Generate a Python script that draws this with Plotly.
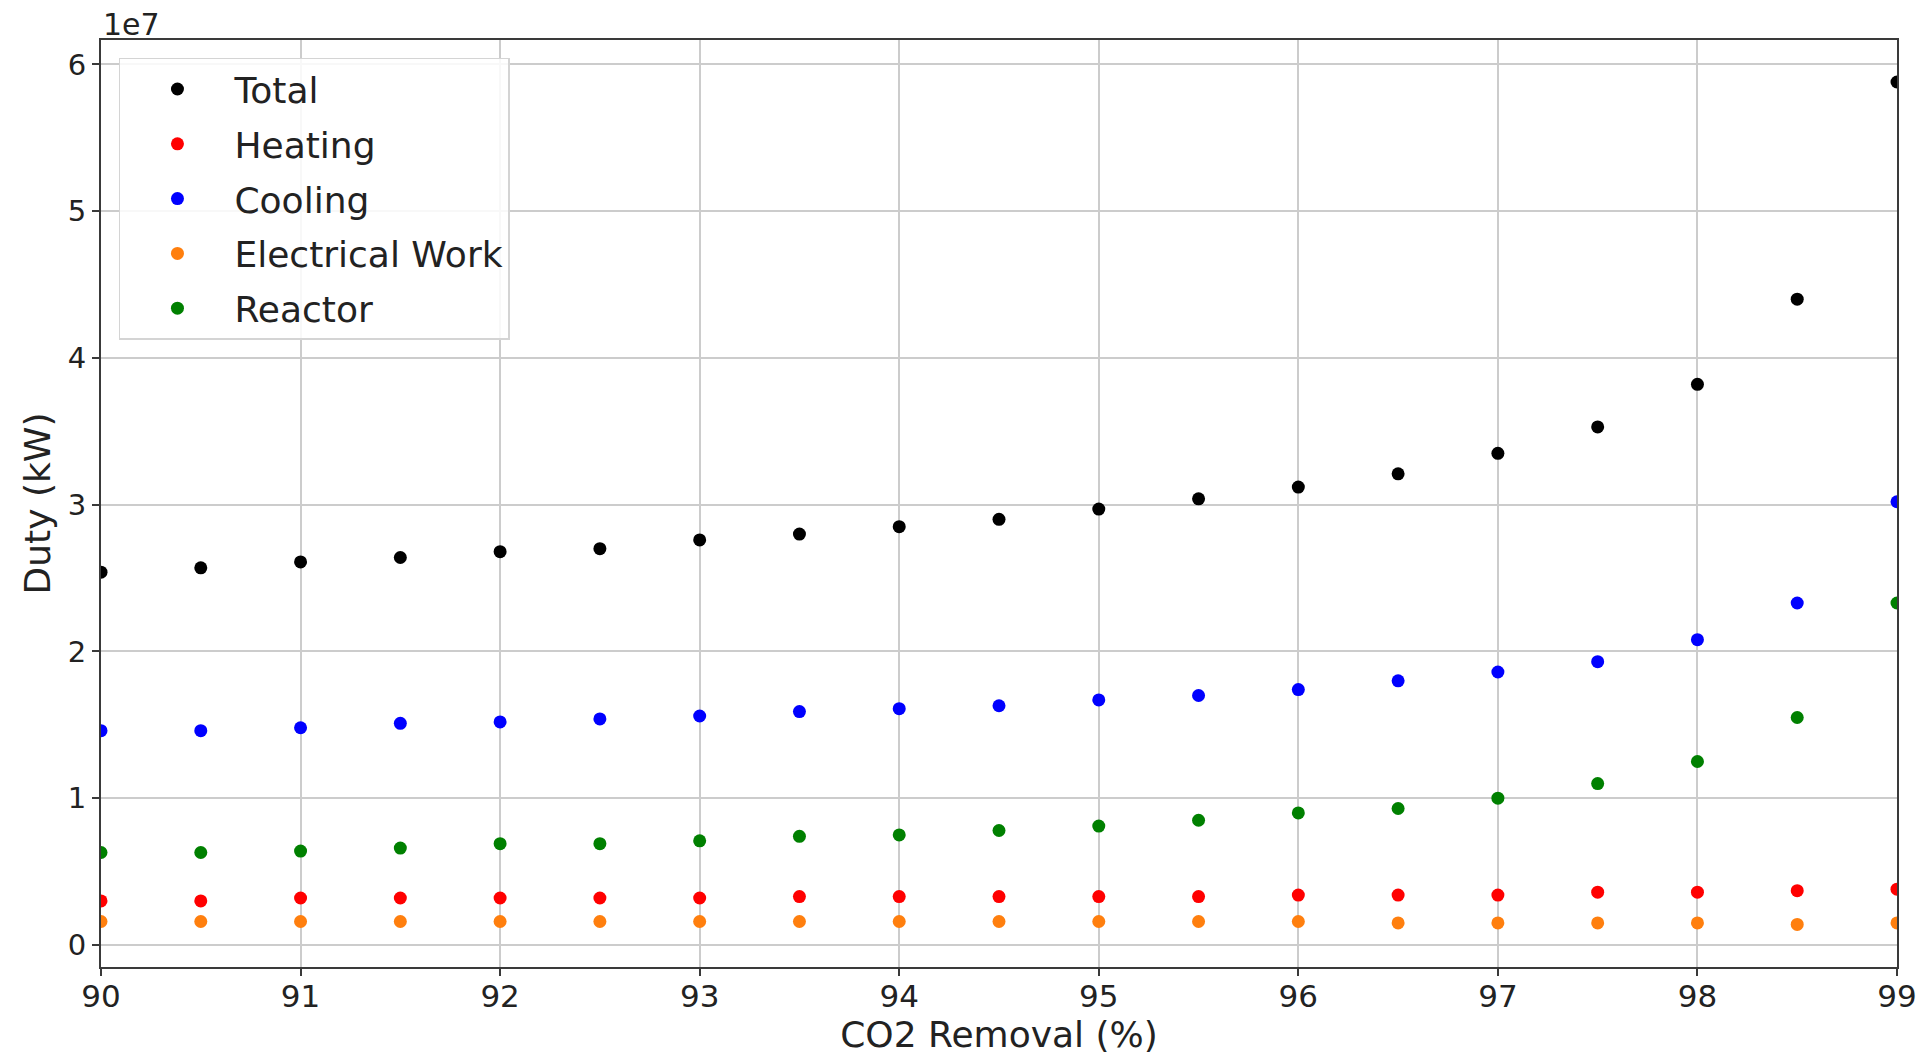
import plotly.graph_objects as go

co2_removal = [90, 90.5, 91, 91.5, 92, 92.5, 93, 93.5, 94, 94.5, 95, 95.5, 96, 96.5, 97, 97.5, 98, 98.5, 99]

total = [2.54e7, 2.57e7, 2.61e7, 2.64e7, 2.68e7, 2.70e7, 2.76e7, 2.80e7, 2.85e7, 2.90e7,
         2.97e7, 3.04e7, 3.12e7, 3.21e7, 3.35e7, 3.53e7, 3.82e7, 4.40e7, 5.88e7]
heating = [0.30e7, 0.30e7, 0.32e7, 0.32e7, 0.32e7, 0.32e7, 0.32e7, 0.33e7, 0.33e7, 0.33e7,
           0.33e7, 0.33e7, 0.34e7, 0.34e7, 0.34e7, 0.36e7, 0.36e7, 0.37e7, 0.38e7]
cooling = [1.46e7, 1.46e7, 1.48e7, 1.51e7, 1.52e7, 1.54e7, 1.56e7, 1.59e7, 1.61e7, 1.63e7,
           1.67e7, 1.70e7, 1.74e7, 1.80e7, 1.86e7, 1.93e7, 2.08e7, 2.33e7, 3.02e7]
electrical = [0.16e7, 0.16e7, 0.16e7, 0.16e7, 0.16e7, 0.16e7, 0.16e7, 0.16e7, 0.16e7, 0.16e7,
              0.16e7, 0.16e7, 0.16e7, 0.15e7, 0.15e7, 0.15e7, 0.15e7, 0.14e7, 0.15e7]
reactor = [0.63e7, 0.63e7, 0.64e7, 0.66e7, 0.69e7, 0.69e7, 0.71e7, 0.74e7, 0.75e7, 0.78e7,
           0.81e7, 0.85e7, 0.90e7, 0.93e7, 1.00e7, 1.10e7, 1.25e7, 1.55e7, 2.33e7]

series_names = ["Total", "Heating", "Cooling", "Electrical Work", "Reactor"]
series_values = [total, heating, cooling, electrical, reactor]
series_colors = ["#000000", "#ff0000", "#0000ff", "#ff7f0e", "#008000"]

x_ticks = [90, 91, 92, 93, 94, 95, 96, 97, 98, 99]
y_tick_vals = [0, 1e7, 2e7, 3e7, 4e7, 5e7, 6e7]
y_tick_text = ["0", "1", "2", "3", "4", "5", "6"]

FONT = "DejaVu Sans, sans-serif"
TXT = "#222222"

fig = go.Figure()
for i, (name, vals, col) in enumerate(zip(series_names, series_values, series_colors)):
    fig.add_trace(go.Scatter(
        x=co2_removal, y=vals, mode="markers", name=name,
        legendgroup=f"g{i}",
        marker=dict(color=col, size=13, line=dict(width=0)),
        cliponaxis=True,
    ))

fig.update_layout(
    width=1926, height=1057,
    paper_bgcolor="white", plot_bgcolor="white",
    margin=dict(l=101, r=29, t=40, b=90, autoexpand=False),
    font=dict(family=FONT, color=TXT, size=28),
    showlegend=True,
    legend=dict(
        x=0.01, y=0.981, xanchor="left", yanchor="top",
        bgcolor="rgba(255,255,255,0.85)", bordercolor="#d4d4d4", borderwidth=1.5,
        font=dict(family=FONT, size=36, color=TXT),
        tracegroupgap=5, itemwidth=104,
    ),
    xaxis=dict(
        range=[90, 99], tickvals=x_ticks, ticktext=[str(t) for t in x_ticks],
        showgrid=True, gridcolor="#cccccc", gridwidth=1.6,
        showline=True, linecolor="#3a3a3a", linewidth=2, mirror=True,
        ticks="outside", ticklen=7, tickcolor="#3a3a3a", tickwidth=1.5,
        zeroline=False, automargin=False, ticklabelstandoff=-6,
        tickfont=dict(size=31),
        title=dict(text="CO2 Removal (%)", font=dict(size=36), standoff=6),
    ),
    yaxis=dict(
        range=[-0.15e7, 6.166e7], tickvals=y_tick_vals, ticktext=y_tick_text,
        showgrid=True, gridcolor="#cccccc", gridwidth=1.6,
        showline=True, linecolor="#3a3a3a", linewidth=2, mirror=True,
        ticks="outside", ticklen=7, tickcolor="#3a3a3a", tickwidth=1.5,
        zeroline=False, automargin=False,
        tickfont=dict(size=29),
        title=dict(text="Duty (kW)", font=dict(size=36), standoff=6),
    ),
    annotations=[dict(
        text="1e7", xref="paper", yref="paper", x=0, y=1, xanchor="left", yanchor="bottom",
        showarrow=False, font=dict(size=30, family=FONT, color=TXT), yshift=-4,
    )],
)

fig.write_html(
    "out.html",
    config={"displayModeBar": False},
    post_script="document.body.style.margin='0';document.body.style.overflow='hidden';",
)
